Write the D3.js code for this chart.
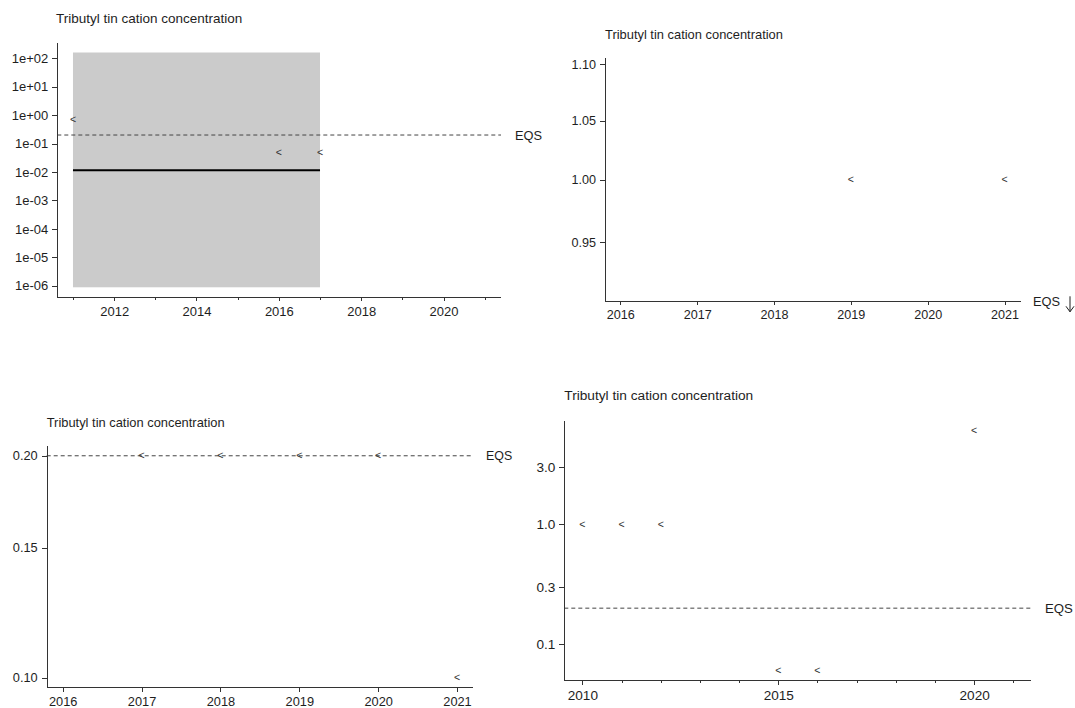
<!DOCTYPE html>
<html>
<head>
<meta charset="utf-8">
<script src="https://cdn.jsdelivr.net/npm/d3@7"></script>
<style>
  html, body { margin: 0; padding: 0; background: #ffffff; }
  svg { display: block; font-family: "Liberation Sans", Arial, sans-serif; }
  .axis path, .axis line { stroke: #333333; shape-rendering: crispEdges; }
  .axis text { fill: #1e1e1e; font-family: "Liberation Sans", Arial, sans-serif; }
</style>
</head>
<body>
<svg id="chart" width="1075" height="708"></svg>
<script>
// ---- Data -------------------------------------------------------------
const chartTitle = "Tributyl tin cation concentration";
const eqsLabel = "EQS";

// Panel A (top left): station series with trend band
const yearsA = [2011, 2016, 2017];
const valuesA = [0.68, 0.05, 0.05];
const trendYearsA = [2011, 2017];
const trendValueA = 0.0115;
const bandLowA = 8.8e-7;
const bandHighA = 160;
const eqsA = 0.2;
const yTicksA = [1e-6, 1e-5, 1e-4, 1e-3, 1e-2, 1e-1, 1e0, 1e1, 1e2];
const xTicksA = [2011, 2012, 2013, 2014, 2015, 2016, 2017, 2018, 2019, 2020, 2021];
const xLabelsA = [2012, 2014, 2016, 2018, 2020];

// Panel B (top right): EQS lies below the plotted range
const yearsB = [2019, 2021];
const valuesB = [1.0, 1.0];
const yTicksB = [0.95, 1.00, 1.05, 1.10];
const xTicksB = [2016, 2017, 2018, 2019, 2020, 2021];
const xLabelsB = [2016, 2017, 2018, 2019, 2020, 2021];

// Panel C (bottom left)
const yearsC = [2017, 2018, 2019, 2020, 2021];
const valuesC = [0.2, 0.2, 0.2, 0.2, 0.1];
const eqsC = 0.2;
const yTicksC = [0.10, 0.15, 0.20];
const xTicksC = [2016, 2017, 2018, 2019, 2020, 2021];
const xLabelsC = [2016, 2017, 2018, 2019, 2020, 2021];

// Panel D (bottom right)
const yearsD = [2010, 2011, 2012, 2015, 2016, 2020];
const valuesD = [1.0, 1.0, 1.0, 0.06, 0.06, 6.0];
const eqsD = 0.2;
const yTicksD = [0.1, 0.3, 1.0, 3.0];
const xTicksD = [2010, 2011, 2012, 2013, 2014, 2015, 2016, 2017, 2018, 2019, 2020, 2021];
const xLabelsD = [2010, 2015, 2020];

// ---- Formatters ---------------------------------------------------------
const fmtSci = d => {
  const e = Math.round(Math.log10(d));
  return "1e" + (e < 0 ? "-" : "+") + String(Math.abs(e)).padStart(2, "0");
};
const fmt2 = d3.format(".2f");
const fmt1 = d3.format(".1f");

// ---- Panel layout ---------------------------------------------------------
const panels = [
  {
    years: yearsA, values: valuesA, yTicks: yTicksA, xTicks: xTicksA, xLabels: xLabelsA,
    yFormat: fmtSci, eqs: eqsA,
    xDomain: [2010.619, 2021.396], xRange: [57.3, 501],
    yDomain: [Math.pow(10, -6.408), Math.pow(10, 2.528)], yRange: [297.3, 43.3],
    titleX: 56, titleY: 22.5, titleSize: 13.5, tickSize: 13, eqsSize: 12.8,
    eqsLabelX: 515, majorTick: 4, minorTick: 3,
    band: { x0: trendYearsA[0], x1: trendYearsA[1], lo: bandLowA, hi: bandHighA, trend: trendValueA }
  },
  {
    years: yearsB, values: valuesB, yTicks: yTicksB, xTicks: xTicksB, xLabels: xLabelsB,
    yFormat: fmt2, eqs: null,
    xDomain: [2015.801, 2021.21], xRange: [605, 1020.7],
    yDomain: [Math.exp(-0.1), Math.exp(0.1)], yRange: [301.3, 58.3],
    titleX: 605, titleY: 38.5, titleSize: 12.9, tickSize: 12.6, eqsSize: 12.8,
    eqsBelow: { x: 1033, arrowX: 1070 }, majorTick: 4, minorTick: 4
  },
  {
    years: yearsC, values: valuesC, yTicks: yTicksC, xTicks: xTicksC, xLabels: xLabelsC,
    yFormat: fmt2, eqs: eqsC,
    xDomain: [2015.797, 2021.199], xRange: [46.7, 472.7],
    yDomain: [0.0972, 0.2062], yRange: [686.7, 446],
    titleX: 46.7, titleY: 426.5, titleSize: 12.9, tickSize: 12.8, eqsSize: 12.4,
    eqsLabelX: 486, majorTick: 5, minorTick: 5
  },
  {
    years: yearsD, values: valuesD, yTicks: yTicksD, xTicks: xTicksD, xLabels: xLabelsD,
    yFormat: fmt1, eqs: eqsD,
    xDomain: [2009.54, 2021.45], xRange: [564.3, 1031],
    yDomain: [0.0501, 7.30], yRange: [680.3, 420.7],
    titleX: 564.3, titleY: 399.8, titleSize: 13.7, tickSize: 13.6, eqsSize: 13.2,
    eqsLabelX: 1045, majorTick: 5, minorTick: 3
  }
];

const svg = d3.select("#chart");

panels.forEach(p => {
  const g = svg.append("g");
  const x = d3.scaleLinear().domain(p.xDomain).range(p.xRange);
  const y = d3.scaleLog().domain(p.yDomain).range(p.yRange);

  // trend band and fitted level
  if (p.band) {
    g.append("rect")
      .attr("x", x(p.band.x0))
      .attr("y", y(p.band.hi))
      .attr("width", x(p.band.x1) - x(p.band.x0))
      .attr("height", y(p.band.lo) - y(p.band.hi))
      .attr("fill", "#cbcbcb");
    g.append("line")
      .attr("x1", x(p.band.x0)).attr("x2", x(p.band.x1))
      .attr("y1", y(p.band.trend)).attr("y2", y(p.band.trend))
      .attr("stroke", "#000000").attr("stroke-width", 2);
  }

  // EQS reference line
  if (p.eqs !== null) {
    g.append("line")
      .attr("x1", p.xRange[0]).attr("x2", p.xRange[1])
      .attr("y1", y(p.eqs)).attr("y2", y(p.eqs))
      .attr("stroke", "#444444").attr("stroke-width", 1)
      .attr("stroke-dasharray", "4,3");
    g.append("text")
      .attr("x", p.eqsLabelX).attr("y", y(p.eqs))
      .attr("dy", "0.36em")
      .attr("font-size", p.eqsSize)
      .attr("fill", "#1e1e1e")
      .text(eqsLabel);
  }

  // EQS below the visible range: label with a downward arrow
  if (p.eqsBelow) {
    const yb = p.yRange[0];
    g.append("text")
      .attr("x", p.eqsBelow.x).attr("y", yb)
      .attr("dy", "0.36em")
      .attr("font-size", p.eqsSize)
      .attr("fill", "#1e1e1e")
      .text(eqsLabel);
    const ax = p.eqsBelow.arrowX;
    g.append("path")
      .attr("d", `M${ax},${yb - 5}L${ax},${yb + 10.5}M${ax - 4},${yb + 5}L${ax},${yb + 10.5}L${ax + 4},${yb + 5}`)
      .attr("fill", "none").attr("stroke", "#1e1e1e").attr("stroke-width", 1);
  }

  // axes
  const yAxis = d3.axisLeft(y)
    .tickValues(p.yTicks).tickFormat(p.yFormat)
    .tickSize(5).tickSizeOuter(0).tickPadding(4);
  const gy = g.append("g").attr("class", "axis")
    .attr("transform", `translate(${p.xRange[0]},0)`)
    .call(yAxis);
  gy.selectAll("text").attr("font-size", p.tickSize).attr("font-family", null);
  gy.select(".domain").attr("d", `M0.5,${p.yRange[1]}V${p.yRange[0]}`);

  const xAxis = d3.axisBottom(x)
    .tickValues(p.xTicks)
    .tickFormat(d => p.xLabels.includes(d) ? String(d) : "")
    .tickSize(p.majorTick).tickSizeOuter(0).tickPadding(5);
  const gx = g.append("g").attr("class", "axis")
    .attr("transform", `translate(0,${p.yRange[0]})`)
    .call(xAxis);
  gx.selectAll("text").attr("font-size", p.tickSize).attr("font-family", null);
  gx.selectAll(".tick line")
    .attr("y2", d => p.xLabels.includes(d) ? p.majorTick : p.minorTick);
  gx.select(".domain").attr("d", `M${p.xRange[0]},0.5H${p.xRange[1]}`);

  // less-than markers for values below the quantification limit
  g.selectAll("text.mark")
    .data(p.years.map((yr, i) => ({ yr, v: p.values[i] })))
    .join("text")
    .attr("class", "mark")
    .attr("x", d => x(d.yr))
    .attr("y", d => y(d.v))
    .attr("dy", "0.33em")
    .attr("text-anchor", "middle")
    .attr("font-size", 10.5)
    .attr("fill", "#333333")
    .text("<");

  // panel title
  g.append("text")
    .attr("x", p.titleX).attr("y", p.titleY)
    .attr("font-size", p.titleSize)
    .attr("fill", "#1e1e1e")
    .text(chartTitle);
});
</script>
</body>
</html>
